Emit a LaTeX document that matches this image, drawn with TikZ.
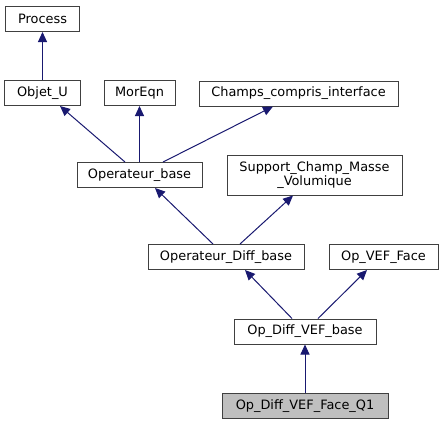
\documentclass[tikz,border=0pt]{standalone}
\usepackage{fontspec}
\setmainfont{DejaVu Sans}
\usetikzlibrary{arrows.meta}
\definecolor{edgeblue}{HTML}{191970}
\definecolor{boxline}{HTML}{404040}
\definecolor{boxfill}{HTML}{BFBFBF}
\begin{document}
\begin{tikzpicture}[x=1bp,y=-1bp,
  cls/.style={draw=boxline,line width=1bp,fill=white,inner sep=0pt,minimum height=25bp,font=\fontsize{12.9bp}{14.5bp}\selectfont,align=center},
  inh/.style={draw=edgeblue,line width=1bp,-{Triangle[length=10bp,width=9bp]}}]
\useasboundingbox (0,0) rectangle (444,425);
\node[cls,minimum width=73bp] (process) at (42.5,19) {Process};
\node[cls,minimum width=75bp] (objet) at (42.5,93) {Objet\_U};
\node[cls,minimum width=71bp] (moreqn) at (139.5,93) {MorEqn};
\node[cls,minimum width=199bp] (champs) at (298.5,93.5) {Champs\_compris\_interface};
\node[cls,minimum width=125bp] (opbase) at (139.5,175) {Operateur\_base};
\node[cls,minimum width=175bp,minimum height=40bp] (support) at (314.5,175) {Support\_Champ\_Masse\\\_Volumique};
\node[cls,minimum width=156bp] (opdiff) at (226,257) {Operateur\_Diff\_base};
\node[cls,minimum width=109bp] (opvef) at (383.5,257) {Op\_VEF\_Face};
\node[cls,minimum width=142bp] (opdvb) at (305,331.5) {Op\_Diff\_VEF\_base};
\node[cls,fill=boxfill,minimum width=166bp] (q1) at (305,406) {Op\_Diff\_VEF\_Face\_Q1};
\draw[inh] (objet.north) -- (process.south);
\draw[inh] ([xshift=-14.5bp]opbase.north) -- ([xshift=17.5bp]objet.south);
\draw[inh] (opbase.north) -- (moreqn.south);
\draw[inh] ([xshift=23.5bp]opbase.north) -- ([xshift=-25.5bp]champs.south);
\draw[inh] ([xshift=-13bp]opdiff.north) -- ([xshift=15.5bp]opbase.south);
\draw[inh] ([xshift=14bp]opdiff.north) -- ([xshift=-21.5bp]support.south);
\draw[inh] ([xshift=-13bp]opdvb.north) -- ([xshift=19bp]opdiff.south);
\draw[inh] ([xshift=13bp]opdvb.north) -- ([xshift=-16.5bp]opvef.south);
\draw[inh] (q1.north) -- (opdvb.south);
\end{tikzpicture}
\end{document}
